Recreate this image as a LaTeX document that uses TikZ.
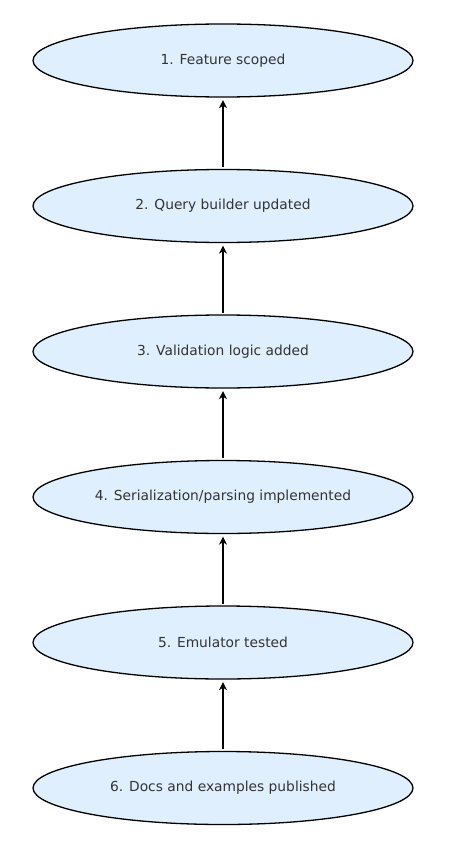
\documentclass[tikz,border=0pt]{standalone}
\usepackage{fontspec}
\setmainfont{DejaVu Sans}
\usetikzlibrary{shapes.geometric,arrows.meta}
\definecolor{fillblue}{HTML}{E0EFFE}
\definecolor{txt}{HTML}{333333}
\begin{document}
\begin{tikzpicture}[x=1pt,y=-1pt,
  stage/.style={ellipse,draw=black,line width=1.3pt,fill=fillblue,minimum width=380pt,minimum height=73pt,inner sep=0pt,text=txt,font=\fontsize{13.8}{16}\selectfont},
  link/.style={-{Stealth[length=8pt,width=8pt,inset=2.5pt]},line width=2.2pt,shorten >=2.5pt,shorten <=1.5pt}]
\useasboundingbox[fill=white] (0,0) rectangle (452,848);
\node[stage] (s1) at (223,60.5) {1. Feature scoped};
\node[stage] (s2) at (223,206) {2. Query builder updated};
\node[stage] (s3) at (223,351.5) {3. Validation logic added};
\node[stage] (s4) at (223,497) {4. Serialization/parsing implemented};
\node[stage] (s5) at (223,642.5) {5. Emulator tested};
\node[stage] (s6) at (223,788) {6. Docs and examples published};
\draw[link] (s2) -- (s1);
\draw[link] (s3) -- (s2);
\draw[link] (s4) -- (s3);
\draw[link] (s5) -- (s4);
\draw[link] (s6) -- (s5);
\end{tikzpicture}
\end{document}
